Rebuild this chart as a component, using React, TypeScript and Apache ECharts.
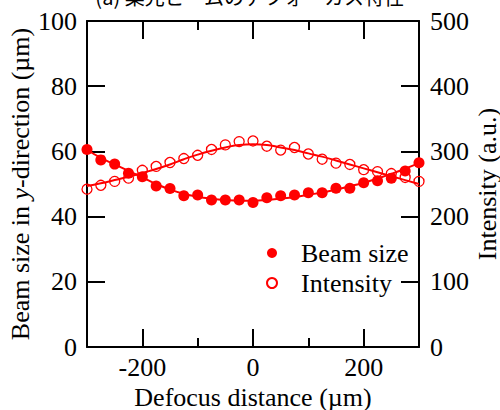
import React, { useEffect, useRef } from "react";
import * as echarts from "echarts";

const defocus = [-300, -275, -250, -225, -200, -175, -150, -125, -100, -75, -50, -25, 0, 25, 50, 75, 100, 125, 150, 175, 200, 225, 250, 275, 300];
const beamSize = [60.6, 57.4, 56.1, 53.3, 52.2, 49.4, 48.6, 46.4, 46.6, 45.1, 45.1, 45.1, 44.3, 45.8, 46.4, 46.6, 47.3, 47.3, 48.7, 48.7, 50.4, 51.0, 51.8, 54.0, 56.5];
const intensity = [242, 248, 254, 259, 271, 277, 283, 289, 294, 303, 310, 315, 316, 308, 302, 306, 296, 288, 282, 280, 272, 269, 266, 260, 254];
const beamFit = [60.5, 58, 56, 54, 52, 50, 48.3, 47, 46.1, 45.5, 45.1, 44.9, 44.9, 45.1, 45.5, 46, 46.7, 47.4, 48.3, 49.3, 50.4, 51.7, 53.1, 54.7, 56.4];
const intensityFit = [247, 251, 256, 261, 267, 273, 280, 288, 295, 301, 306, 310, 311, 310, 306, 302, 297, 292, 286, 280, 274, 268, 262, 256, 250];
const xMajorTicks = [-200, 0, 200];
const xMinorTicks = [-100, 100];

const FONT = "'Liberation Serif', 'Times New Roman', serif";
const RED = "#ff0000";

export default function App() {
  const ref = useRef<HTMLDivElement>(null);
  useEffect(() => {
    if (!ref.current) return;
    const chart = echarts.init(ref.current, null, { renderer: "svg" });
    const pair = (ys: number[]) => defocus.map((x, i) => [x, ys[i]]);
    const axisLine = { show: true, onZero: false, lineStyle: { color: "#000", width: 2 } };
    const tickStyle = { color: "#000", width: 2 };
    const labelStyle = { fontFamily: FONT, fontSize: 26, color: "#000" };
    const baseX = { type: "value", min: -300, max: 300, interval: 100, splitLine: { show: false } };
    chart.setOption({
      animation: false,
      backgroundColor: "#fff",
      textStyle: { fontFamily: FONT },
      graphic: [
        {
          type: "text",
          left: "center",
          top: -14,
          style: { text: "(a) 集光ビームのデフォーカス特性", font: `20px "Noto Sans CJK JP"`, fill: "#000" },
        },
      ],
      grid: { left: 87, right: 81, top: 21, bottom: 63, containLabel: false, outerBoundsMode: "none" },
      legend: {
        orient: "vertical",
        left: 261,
        top: 235,
        itemWidth: 10,
        itemHeight: 10,
        itemGap: 4,
        textStyle: { ...labelStyle, lineHeight: 26, padding: [0, 0, 0, 19] },
        data: ["Beam size", "Intensity"],
      },
      xAxis: [
        {
          ...baseX,
          position: "bottom",
          name: "Defocus distance (µm)",
          nameLocation: "middle",
          nameGap: 37,
          nameMoveOverlap: false,
          nameTextStyle: labelStyle,
          axisLine,
          axisTick: { show: true, inside: true, length: 18, customValues: xMajorTicks, lineStyle: tickStyle },
          axisLabel: { show: true, customValues: xMajorTicks, margin: 7, ...labelStyle },
        },
        {
          ...baseX,
          position: "bottom",
          axisLine: { show: false, onZero: false },
          axisTick: { show: true, inside: true, length: 9, customValues: xMinorTicks, lineStyle: tickStyle },
          axisLabel: { show: false },
        },
        {
          ...baseX,
          position: "top",
          axisLine,
          axisTick: { show: true, inside: true, length: 18, customValues: xMajorTicks, lineStyle: tickStyle },
          axisLabel: { show: false },
        },
        {
          ...baseX,
          position: "top",
          axisLine: { show: false, onZero: false },
          axisTick: { show: true, inside: true, length: 9, customValues: xMinorTicks, lineStyle: tickStyle },
          axisLabel: { show: false },
        },
      ],
      yAxis: [
        {
          type: "value",
          position: "left",
          min: 0,
          max: 100,
          interval: 20,
          splitLine: { show: false },
          name: "Beam size in {i|y}-direction (µm)",
          nameLocation: "middle",
          nameRotate: 90,
          nameGap: 54,
          nameMoveOverlap: false,
          nameTextStyle: {
            ...labelStyle,
            rich: { i: { ...labelStyle, fontStyle: "italic" } },
          },
          axisLine,
          axisTick: { show: true, inside: true, length: 18, lineStyle: tickStyle },
          axisLabel: { margin: 10, ...labelStyle },
        },
        {
          type: "value",
          position: "right",
          min: 0,
          max: 500,
          interval: 100,
          splitLine: { show: false },
          name: "Intensity (a.u.)",
          nameLocation: "middle",
          nameRotate: 90,
          nameGap: 55,
          nameMoveOverlap: false,
          nameTextStyle: labelStyle,
          axisLine,
          axisTick: { show: true, inside: true, length: 18, lineStyle: tickStyle },
          axisLabel: { margin: 11, ...labelStyle },
        },
      ],
      series: [
        {
          name: "Beam size fit",
          type: "line",
          yAxisIndex: 0,
          data: pair(beamFit),
          smooth: true,
          showSymbol: false,
          lineStyle: { color: RED, width: 2 },
          z: 2,
        },
        {
          name: "Intensity fit",
          type: "line",
          yAxisIndex: 1,
          data: pair(intensityFit),
          smooth: true,
          showSymbol: false,
          lineStyle: { color: RED, width: 2 },
          z: 2,
        },
        {
          name: "Beam size",
          type: "scatter",
          yAxisIndex: 0,
          data: pair(beamSize),
          symbol: "circle",
          symbolSize: 11,
          itemStyle: { color: RED, opacity: 1 },
          z: 3,
        },
        {
          name: "Intensity",
          type: "scatter",
          yAxisIndex: 1,
          data: pair(intensity),
          symbol: "circle",
          symbolSize: 10,
          itemStyle: { color: "rgba(255,255,255,0)", borderColor: RED, borderWidth: 1.3, opacity: 1 },
          z: 3,
        },
      ],
    });
    return () => chart.dispose();
  }, []);
  return <div ref={ref} style={{ position: "absolute", left: 0, top: 0, width: 500, height: 410 }} />;
}
